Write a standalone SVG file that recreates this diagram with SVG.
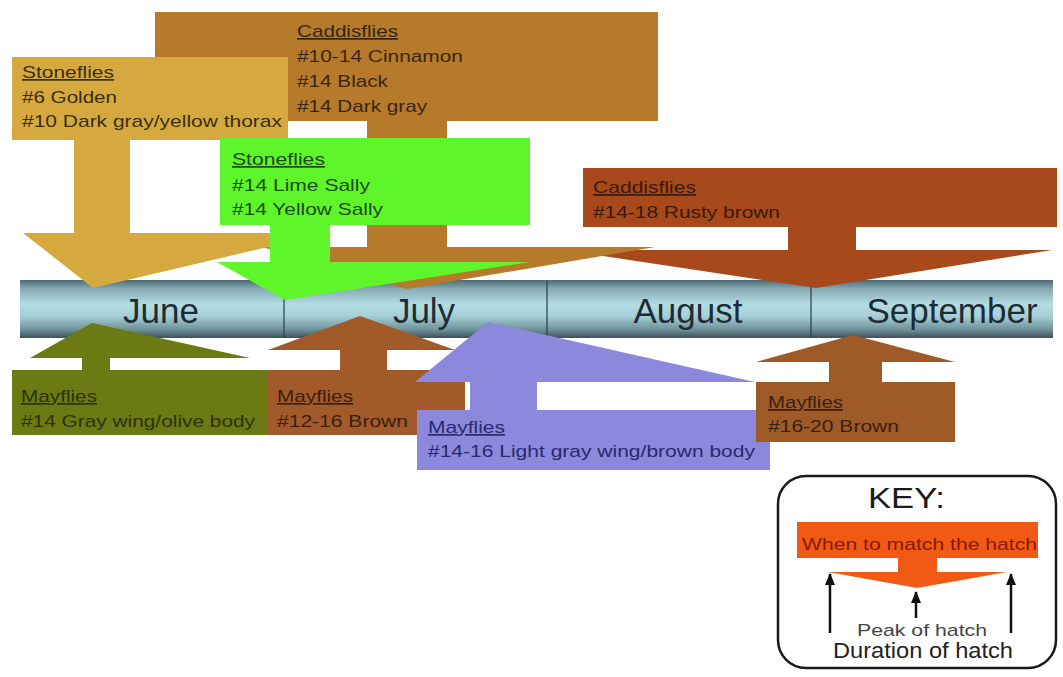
<svg xmlns="http://www.w3.org/2000/svg" width="1063" height="677" viewBox="0 0 1063 677">
<defs>
<linearGradient id="bar" x1="0" y1="0" x2="0" y2="1">
<stop offset="0" stop-color="#4d6a74"/>
<stop offset="0.15" stop-color="#86aab2"/>
<stop offset="0.42" stop-color="#b3dde2"/>
<stop offset="0.62" stop-color="#a7d0d6"/>
<stop offset="0.86" stop-color="#6d9098"/>
<stop offset="1" stop-color="#3a5159"/>
</linearGradient>
<marker id="ah" viewBox="0 0 12 10" refX="11" refY="5" markerWidth="12" markerHeight="10" markerUnits="userSpaceOnUse" orient="auto">
<path d="M0,0 L12,5 L0,10 Z" fill="#111"/>
</marker>
<style>
text{font-family:"Liberation Sans",Arial,sans-serif;}
.t{font-size:17px;}
.u{text-decoration:underline;}
.m{font-size:35px;fill:#1c2d36;text-anchor:middle;}
</style>
</defs>
<rect width="1063" height="677" fill="#ffffff"/>

<g id="timeline">
<rect x="20" y="280" width="1033" height="58" fill="url(#bar)"/>
<path d="M284,281 V338 M547,281 V338 M811,281 V338" stroke="#2c3e46" stroke-width="1.2"/>
<text class="m" x="161" y="323">June</text>
<text class="m" x="424" y="323">July</text>
<text class="m" x="688" y="323">August</text>
<text class="m" x="952" y="323">September</text>
</g>

<g id="caddis-rusty">
<path d="M583,168 H1057 V227 H856 V250 H1052 L816,288 L563,250 H788 V227 H583 Z" fill="#a8491b"/>
<g fill="#3a1a08"><text class="t u" x="593" y="193" textLength="103" lengthAdjust="spacingAndGlyphs">Caddisflies</text>
<text class="t" x="593" y="218" textLength="187" lengthAdjust="spacingAndGlyphs">#14-18 Rusty brown</text></g>
</g>

<g id="caddis-cinnamon">
<path d="M155,12 H658 V121 H447 V247 H655 L407,289 L262,247 H367 V121 H155 Z" fill="#b67a2b"/>
<g fill="#3a2610"><text class="t u" x="297" y="37" textLength="101" lengthAdjust="spacingAndGlyphs">Caddisflies</text>
<text class="t" x="297" y="62" textLength="166" lengthAdjust="spacingAndGlyphs">#10-14 Cinnamon</text>
<text class="t" x="297" y="87" textLength="91" lengthAdjust="spacingAndGlyphs">#14 Black</text>
<text class="t" x="297" y="112" textLength="130" lengthAdjust="spacingAndGlyphs">#14 Dark gray</text></g>
</g>

<g id="stonefly-golden">
<path d="M12,57 H288 V140 H130 V233 H328 L93,288 L23,233 H74 V140 H12 Z" fill="#d6a93f"/>
<g fill="#3b2f12"><text class="t u" x="22" y="78" textLength="92" lengthAdjust="spacingAndGlyphs">Stoneflies</text>
<text class="t" x="22" y="103" textLength="95" lengthAdjust="spacingAndGlyphs">#6 Golden</text>
<text class="t" x="22" y="127" textLength="260" lengthAdjust="spacingAndGlyphs">#10 Dark gray/yellow thorax</text></g>
</g>

<g id="stonefly-sally">
<path d="M220,138 H530 V225 H330 V262 H530 L285,300 L217,262 H270 V225 H220 Z" fill="#5ef52b"/>
<g fill="#1f4a12"><text class="t u" x="232" y="165" textLength="93" lengthAdjust="spacingAndGlyphs">Stoneflies</text>
<text class="t" x="232" y="191" textLength="138" lengthAdjust="spacingAndGlyphs">#14 Lime Sally</text>
<text class="t" x="232" y="215" textLength="151" lengthAdjust="spacingAndGlyphs">#14 Yellow Sally</text></g>
</g>

<g id="mayfly-olive">
<path d="M12,435 H267 V370 H110 V358 H250 L92,323 L30,358 H82 V370 H12 Z" fill="#6b7a12"/>
<g fill="#2e3208"><text class="t u" x="21" y="402" textLength="76" lengthAdjust="spacingAndGlyphs">Mayflies</text>
<text class="t" x="21" y="427" textLength="234" lengthAdjust="spacingAndGlyphs">#14 Gray wing/olive body</text></g>
</g>

<g id="mayfly-brown1216">
<path d="M267,435 H465 V370 H387 V350 H455 L360,316 L268,350 H340 V370 H267 Z" fill="#a35a2a"/>
<g fill="#3a2010"><text class="t u" x="277" y="402" textLength="76" lengthAdjust="spacingAndGlyphs">Mayflies</text>
<text class="t" x="277" y="427" textLength="131" lengthAdjust="spacingAndGlyphs">#12-16 Brown</text></g>
</g>

<g id="mayfly-lightgray">
<path d="M417,470 H770 V410 H537 V382 H755 L488,322 L415,382 H470 V410 H417 Z" fill="#8c88dc"/>
<g fill="#2a2870"><text class="t u" x="428" y="433" textLength="77" lengthAdjust="spacingAndGlyphs">Mayflies</text>
<text class="t" x="428" y="457" textLength="327" lengthAdjust="spacingAndGlyphs">#14-16 Light gray wing/brown body</text></g>
</g>

<g id="mayfly-brown1620">
<path d="M756,442 H955 V382 H882 V362 H955 L853,335 L756,362 H829 V382 H756 Z" fill="#9e5b28"/>
<g fill="#3a2010"><text class="t u" x="768" y="408" textLength="75" lengthAdjust="spacingAndGlyphs">Mayflies</text>
<text class="t" x="768" y="432" textLength="131" lengthAdjust="spacingAndGlyphs">#16-20 Brown</text></g>
</g>

<g id="key">
<rect x="778" y="476" width="278" height="192" rx="28" fill="#ffffff" stroke="#1a1a1a" stroke-width="2.5"/>
<text x="868" y="508" font-size="29" fill="#1a1a1a" textLength="77" lengthAdjust="spacingAndGlyphs">KEY:</text>
<path d="M797,522 H1038 V558 H937 V572 H1007 L917,588 L828,572 H898 V558 H797 Z" fill="#f05a14"/>
<text x="802" y="550" font-size="17" fill="#8a1800" textLength="235" lengthAdjust="spacingAndGlyphs">When to match the hatch</text>
<text x="857" y="636" font-size="17" fill="#444444" textLength="130" lengthAdjust="spacingAndGlyphs">Peak of hatch</text>
<text x="833" y="658" font-size="22" fill="#222222" textLength="180" lengthAdjust="spacingAndGlyphs">Duration of hatch</text>
</g>

<g id="connectors" stroke="#111" stroke-width="2.5" fill="none">
<line x1="830" y1="633" x2="830" y2="574" marker-end="url(#ah)"/>
<line x1="916" y1="618" x2="916" y2="592" marker-end="url(#ah)"/>
<line x1="1011" y1="633" x2="1011" y2="574" marker-end="url(#ah)"/>
</g>
</svg>
